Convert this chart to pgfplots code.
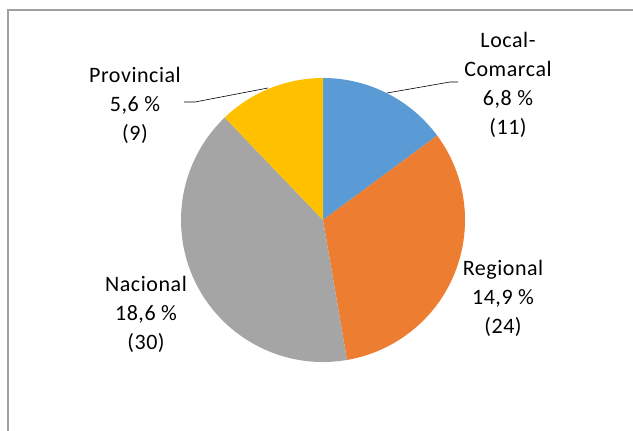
\documentclass[border=0pt]{standalone}
\usepackage{pgfplots}
\pgfplotsset{compat=1.18}
\usepackage{pgfplotstable}
\usepackage{fontspec}
\setmainfont{Carlito}[LetterSpace=2.5]
\definecolor{cBlue}{HTML}{5B9BD5}
\definecolor{cOrange}{HTML}{ED7D31}
\definecolor{cGray}{HTML}{A5A5A5}
\definecolor{cYellow}{HTML}{FFC000}
\definecolor{cFrame}{HTML}{A0A0A0}
\pgfplotstableread{
name count pct
Local-Comarcal 11 6.8
Regional 24 14.9
Nacional 30 18.6
Provincial 9 5.6
}\piedata
\pgfplotstablegetelem{0}{count}\of\piedata \let\cA\pgfplotsretval
\pgfplotstablegetelem{1}{count}\of\piedata \let\cB\pgfplotsretval
\pgfplotstablegetelem{2}{count}\of\piedata \let\cC\pgfplotsretval
\pgfplotstablegetelem{3}{count}\of\piedata \let\cD\pgfplotsretval
\pgfmathsetmacro\tot{\cA+\cB+\cC+\cD}
\pgfmathsetmacro\aA{90-360*\cA/\tot}
\pgfmathsetmacro\aB{\aA-360*\cB/\tot}
\pgfmathsetmacro\aC{\aB-360*\cC/\tot}
\pgfmathsetmacro\aD{\aC-360*\cD/\tot}
\newcommand\lbl{\fontsize{22bp}{29bp}\selectfont}
\begin{document}
\begin{tikzpicture}
\begin{axis}[name=ax,
  scale only axis, width=633bp, height=431bp,
  xmin=0, xmax=633, ymin=0, ymax=431, y dir=reverse,
  hide axis, clip=false]
\fill[cBlue] (axis cs:323,220) -- ++(90:142bp) arc[start angle=90, end angle=\aA, radius=142bp] -- cycle;
\fill[cOrange] (axis cs:323,220) -- ++(\aA:142bp) arc[start angle=\aA, end angle=\aB, radius=142bp] -- cycle;
\fill[cGray] (axis cs:323,220) -- ++(\aB:142bp) arc[start angle=\aB, end angle=\aC, radius=142bp] -- cycle;
\fill[cYellow] (axis cs:323,220) -- ++(\aC:142bp) arc[start angle=\aC, end angle=\aD, radius=142bp] -- cycle;
\draw[cFrame, line width=1.2bp] (axis cs:8,431) -- (axis cs:8,10) -- (axis cs:633,10);
\draw[black, line width=0.6bp] (axis cs:184,102) -- (axis cs:195,102) -- (axis cs:268,88);
\draw[black, line width=0.6bp] (axis cs:458,82) -- (axis cs:450,82) -- (axis cs:387,93);
\node[align=center, font=\lbl, inner sep=0pt] at (axis cs:135,105) {Provincial\\5,6 \%\\(9)};
\node[align=center, font=\lbl, inner sep=0pt] at (axis cs:508,85) {Local-\\Comarcal\\6,8 \%\\(11)};
\node[align=center, font=\lbl, inner sep=0pt] at (axis cs:503,298) {Regional\\14,9 \%\\(24)};
\node[align=center, font=\lbl, inner sep=0pt] at (axis cs:146,314) {Nacional\\18,6 \%\\(30)};
\end{axis}
\pgfresetboundingbox
\path[use as bounding box] (ax.south west) rectangle (ax.north east);
\end{tikzpicture}
\end{document}
